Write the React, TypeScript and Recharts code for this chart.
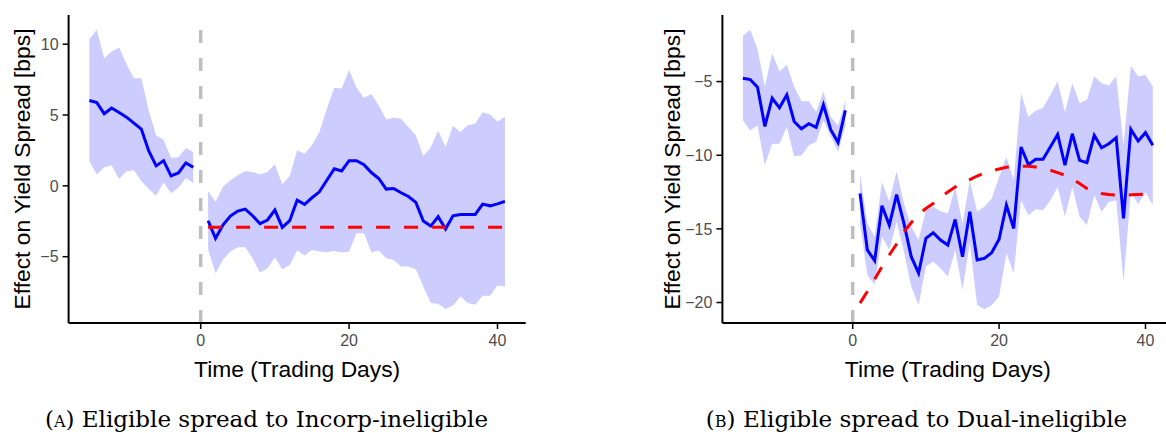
import React from "react"
import {
  ComposedChart, Line, Area, XAxis, YAxis, ReferenceLine,
} from "recharts"

// ── days ────────────────────────────────────────────────────────────────────
const preDays = [-15, -14, -13, -12, -11, -10, -9, -8, -7, -6, -5, -4, -3, -2, -1]
const postDays = [
  1, 2, 3, 4, 5, 6, 7, 8, 9, 10, 11, 12, 13, 14, 15, 16, 17, 18, 19, 20,
  21, 22, 23, 24, 25, 26, 27, 28, 29, 30, 31, 32, 33, 34, 35, 36, 37, 38, 39, 40, 41,
]
const xTicks = [0, 20, 40]

// ── Panel A: Incorp-ineligible ──────────────────────────────────────────────
const aPreMean = [6.02, 5.88, 5.09, 5.49, 5.18, 4.85, 4.43, 4.01, 2.46, 1.41, 1.78, 0.7, 0.91, 1.62, 1.31]
const aPreHi = [10.36, 11.02, 9.0, 9.49, 9.77, 8.6, 7.59, 7.59, 5.32, 3.56, 3.26, 1.99, 2.02, 2.67, 2.39]
const aPreLo = [1.73, 0.8, 1.29, 1.45, 0.49, 1.03, 1.1, 0.35, -0.23, -0.7, 0.23, -0.52, -0.14, 0.56, 0.21]
const aPostMean = [
  -2.46, -3.7, -2.77, -2.13, -1.78, -1.64, -2.11, -2.67, -2.41, -1.71, -2.93, -2.46, -1.01, -1.31,
  -0.84, -0.42, 0.4, 1.2, 1.05, 1.78, 1.78, 1.5, 0.94, 0.52, -0.23, -0.19, -0.49, -0.75, -1.17,
  -2.48, -2.84, -2.18, -3.05, -2.11, -2.02, -2.02, -2.02, -1.29, -1.41, -1.27, -1.1,
]
const aPostHi = [
  -0.38, -1.13, -0.07, 0.4, 0.75, 1.03, 0.98, 0.8, 0.98, 1.52, 0.12, 0.7, 2.51, 2.27, 2.86, 3.8,
  5.44, 6.92, 6.87, 8.18, 6.92, 6.21, 6.49, 5.67, 4.69, 4.81, 4.74, 4.15, 3.56, 2.11, 2.7, 3.91,
  2.74, 4.24, 3.8, 4.27, 4.38, 5.2, 5.04, 4.55, 4.9,
]
const aPostLo = [
  -4.48, -6.16, -5.23, -4.64, -4.34, -4.34, -5.11, -6.12, -5.81, -5.06, -5.88, -5.58, -4.57, -4.92,
  -4.52, -4.64, -4.69, -4.59, -4.71, -4.64, -3.35, -3.35, -4.69, -4.57, -5.11, -5.23, -5.7, -5.7,
  -5.88, -7.1, -8.27, -8.32, -8.7, -8.44, -7.81, -8.27, -8.39, -7.76, -7.76, -7.03, -7.1,
]
const aFitDays = [1, 41]
const aFitVals = [-2.93, -2.93]
const aYTicks = [-5, 0, 5, 10]

// ── Panel B: Dual-ineligible ────────────────────────────────────────────────
const bPreMean = [-4.77, -4.86, -5.38, -8.04, -6.13, -6.78, -5.9, -7.71, -8.2, -7.86, -8.11, -6.58, -8.27, -9.13, -6.96]
const bPreHi = [-1.89, -1.48, -2.79, -5.34, -3.08, -4.32, -3.85, -5.34, -6.33, -6.33, -7.07, -5.68, -7.41, -7.98, -6.29]
const bPreLo = [-7.64, -8.32, -7.98, -10.68, -9.22, -9.22, -8.09, -10.07, -10.01, -9.33, -9.1, -7.64, -8.72, -9.78, -7.98]
const bPostMean = [
  -12.6, -16.43, -17.16, -13.43, -14.74, -12.67, -14.63, -16.89, -18.01, -15.64, -15.26, -15.76,
  -16.1, -14.36, -16.89, -13.84, -17.11, -17.0, -16.61, -15.71, -13.39, -14.97, -9.44, -10.64,
  -10.28, -10.28, -9.44, -8.59, -10.68, -8.54, -10.35, -10.5, -8.65, -9.49, -9.22, -8.81, -14.29,
  -8.25, -9.04, -8.47, -9.33,
]
const bPostHi = [
  -11.25, -14.63, -15.53, -11.81, -13.16, -11.09, -13.28, -14.86, -15.76, -13.73, -13.5, -13.8,
  -13.95, -12.15, -14.63, -11.7, -13.84, -13.5, -12.94, -11.47, -10.12, -11.7, -5.79, -7.41, -6.96,
  -6.8, -5.9, -5.0, -7.07, -5.11, -6.47, -6.24, -4.64, -5.11, -5.27, -4.64, -9.33, -3.92, -4.66,
  -4.55, -5.32,
]
const bPostLo = [
  -14.63, -18.13, -18.8, -15.53, -16.43, -14.52, -16.55, -18.92, -20.16, -17.56, -17.22, -17.67,
  -18.24, -16.43, -19.14, -15.98, -20.16, -20.45, -20.16, -19.59, -16.66, -18.01, -13.05, -14.07,
  -13.66, -13.73, -13.05, -12.15, -14.18, -12.15, -14.18, -14.74, -12.71, -13.84, -13.16, -13.05,
  -18.58, -12.49, -13.32, -12.49, -13.39,
]
const bFitDays = [
  1, 2, 3, 4, 5, 6, 7, 8, 9, 10, 11, 12, 13, 14, 15, 16, 17, 18, 19, 20,
  21, 22, 23, 24, 25, 26, 27, 28, 29, 30, 31, 32, 33, 34, 35, 36, 37, 38, 39, 40,
]
const bFitVals = [
  -20.04, -19.25, -18.42, -17.56, -16.77, -16.03, -15.19, -14.58, -14.0, -13.62, -13.28, -12.83,
  -12.49, -12.15, -11.86, -11.65, -11.41, -11.2, -11.07, -10.93, -10.82, -10.77, -10.75, -10.75,
  -10.8, -10.89, -11.02, -11.18, -11.36, -11.61, -11.92, -12.26, -12.49, -12.6, -12.67, -12.71,
  -12.71, -12.69, -12.67, -12.65,
]
const bYTicks = [-20, -15, -10, -5]

const SANS = "'Liberation Sans', Arial, sans-serif"
const SERIF = "'DejaVu Serif', 'Liberation Serif', serif"

type Row = { day: number; mean: number | null; band: [number, number] | null; fit: number | null }

function buildRows(
  preMean: number[], preLo: number[], preHi: number[],
  postMean: number[], postLo: number[], postHi: number[],
  fitDays: number[], fitVals: number[],
): Row[] {
  const rows: Row[] = []
  preDays.forEach((d, i) => rows.push({ day: d, mean: preMean[i], band: [preLo[i], preHi[i]], fit: null }))
  rows.push({ day: 0, mean: null, band: null, fit: null })
  postDays.forEach((d, i) => {
    const k = fitDays.indexOf(d)
    rows.push({ day: d, mean: postMean[i], band: [postLo[i], postHi[i]], fit: k >= 0 ? fitVals[k] : null })
  })
  return rows
}

const rowsA = buildRows(aPreMean, aPreLo, aPreHi, aPostMean, aPostLo, aPostHi, aFitDays, aFitVals)
const rowsB = buildRows(bPreMean, bPreLo, bPreHi, bPostMean, bPostLo, bPostHi, bFitDays, bFitVals)

const fmt = (v: number) => (v < 0 ? `\u2212${-v}` : `${v}`)

interface PanelProps {
  rows: Row[]
  yDomain: [number, number]
  yTicks: number[]
  yAxisWidth: number
  yTitleX: number
  rightMargin: number
}

function Panel({ rows, yDomain, yTicks, yAxisWidth, yTitleX, rightMargin }: PanelProps) {
  const yTitle = ({ viewBox }: any) => {
    const cy = viewBox.y + viewBox.height / 2
    return (
      <text x={yTitleX} y={cy} transform={`rotate(-90 ${yTitleX} ${cy})`} textAnchor="middle"
        dominantBaseline="central" fill="#000" fontSize={22.8} fontFamily={SANS}>
        Effect on Yield Spread [bps]
      </text>
    )
  }
  const xTitle = ({ viewBox }: any) => (
    <text x={viewBox.x + viewBox.width / 2} y={377} textAnchor="middle" fill="#000" fontSize={22.8} fontFamily={SANS}>
      Time (Trading Days)
    </text>
  )
  return (
    <ComposedChart width={540} height={385} data={rows} margin={{ top: 15, right: rightMargin, left: 0, bottom: 0 }}>
      <XAxis dataKey="day" type="number" domain={[-17.8, 43.8]} ticks={xTicks} height={62}
        axisLine={{ stroke: "#000", strokeWidth: 2 }} tickLine={{ stroke: "#000", strokeWidth: 1.5 }}
        tickSize={6} tickMargin={6} tick={{ fill: "#4D4D4D", fontSize: 16, fontFamily: SANS }}
        label={{ content: xTitle }} />
      <YAxis type="number" domain={yDomain} ticks={yTicks} width={yAxisWidth} tickFormatter={fmt}
        axisLine={{ stroke: "#000", strokeWidth: 2 }} tickLine={{ stroke: "#000", strokeWidth: 1.5 }}
        tickSize={6} tickMargin={4} tick={{ fill: "#4D4D4D", fontSize: 16, fontFamily: SANS }}
        label={{ content: yTitle }} />
      <Area dataKey="band" type="linear" fill="#CCCCFF" fillOpacity={1} stroke="none" isAnimationActive={false} />
      <ReferenceLine x={0} stroke="#BEBEBE" strokeWidth={3.5} strokeDasharray="13 15" />
      <Line dataKey="mean" type="linear" stroke="#0000FF" strokeWidth={3} dot={false} isAnimationActive={false} />
      <Line dataKey="fit" type="linear" stroke="#FF0000" strokeWidth={3} strokeDasharray="14 14" dot={false}
        connectNulls isAnimationActive={false} />
    </ComposedChart>
  )
}

const captionStyle: React.CSSProperties = {
  position: "absolute", top: 406, fontFamily: SERIF, fontSize: 23, lineHeight: "26px", color: "#000",
  whiteSpace: "nowrap", transform: "translateX(-50%)",
}

export default function App() {
  return (
    <div style={{ position: "fixed", left: 0, top: 0, width: 1166, height: 433, overflow: "hidden", background: "#fff" }}>
      <div style={{ position: "absolute", left: 0, top: 0 }}>
        <Panel rows={rowsA} yDomain={[-9.68, 12.06]} yTicks={aYTicks} yAxisWidth={68.6} yTitleX={22} rightMargin={14.3} />
      </div>
      <div style={{ position: "absolute", left: 654, top: 0 }}>
        <Panel rows={rowsB} yDomain={[-21.39, -0.48]} yTicks={bYTicks} yAxisWidth={68.4} yTitleX={18} rightMargin={20.7} />
      </div>
      <div style={{ ...captionStyle, left: 266.5 }}>
        (<span style={{ fontVariant: "small-caps" }}>a</span>) Eligible spread to Incorp-ineligible
      </div>
      <div style={{ ...captionStyle, left: 916.5 }}>
        (<span style={{ fontVariant: "small-caps" }}>b</span>) Eligible spread to Dual-ineligible
      </div>
    </div>
  )
}
